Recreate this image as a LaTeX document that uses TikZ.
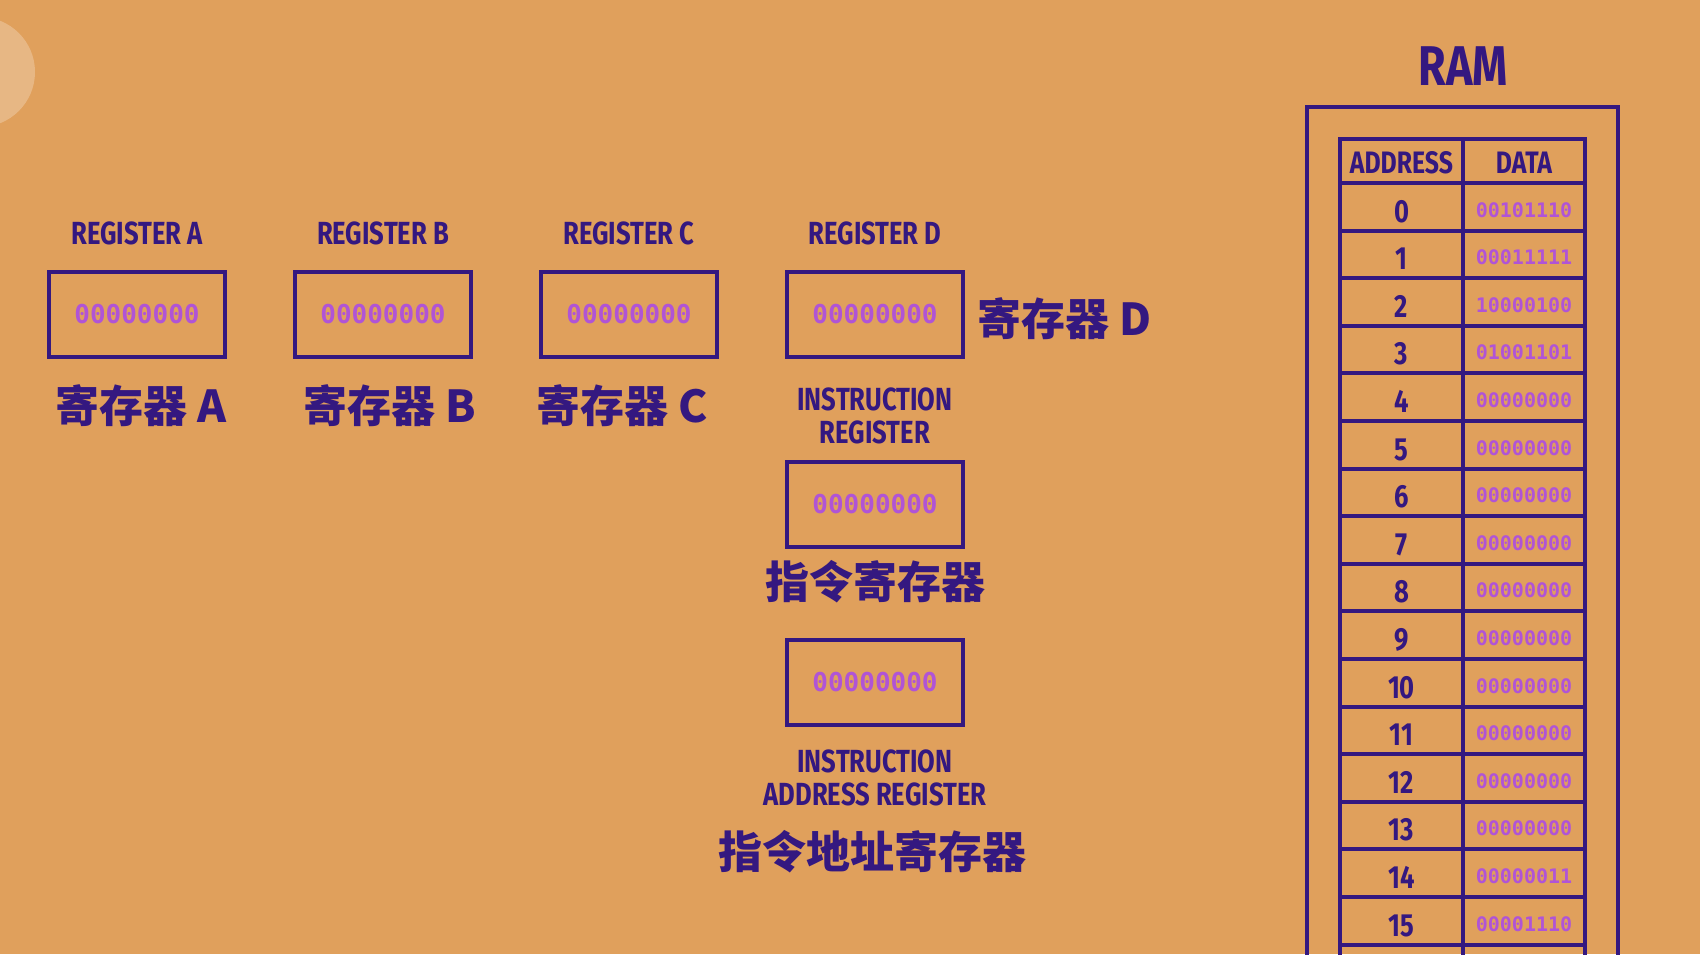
\documentclass[tikz,border=0pt]{standalone}
\usepackage{fontspec}
\usetikzlibrary{positioning}
\newfontfamily\headfont{Fira Sans}[FakeStretch=0.8]
\newfontfamily\cjk{Noto Sans CJK SC}
\newfontfamily\bitfont{DejaVu Sans Mono}
\definecolor{bgorange}{RGB}{224,160,92}
\definecolor{ink}{RGB}{52,24,128}
\definecolor{bitviolet}{RGB}{176,84,214}

\begin{document}
\begin{tikzpicture}[x=1pt, y=-1pt,
  regbox/.style={draw=ink, line width=4pt, minimum width=176pt, minimum height=85pt, inner sep=0pt,
    text=bitviolet, font=\bitfont\bfseries\fontsize{26}{26}\selectfont},
  title/.style={inner sep=0pt, anchor=base, text=ink, align=center,
    font=\headfont\bfseries\fontsize{32}{33}\selectfont},
  hanzi/.style={inner sep=0pt, anchor=base, text=ink, font=\cjk\bfseries\fontsize{44}{44}\selectfont},
  cell/.style={draw=ink, line width=4pt, inner sep=0pt, text depth=0pt},
  head/.style={cell, minimum height=44pt, text height=24pt, text=ink,
    font=\headfont\bfseries\fontsize{31}{31}\selectfont},
  addr/.style={cell, minimum width=123pt, minimum height=47.6pt, text height=30.4pt, text=ink,
    font=\headfont\bfseries\fontsize{32}{32}\selectfont},
  data/.style={cell, minimum width=122pt, minimum height=47.6pt, text height=20.4pt, text=bitviolet,
    font=\bitfont\bfseries\fontsize{20}{20}\selectfont}
]
\useasboundingbox (0,0) rectangle (1700,954);
\clip (0,0) rectangle (1700,954);
\fill[bgorange] (0,0) rectangle (1700,954);
\fill[white, opacity=0.25] (-20,72) circle (55);

% registers
\node[regbox] (rega) at (137,314.5) {00000000};
\node[regbox, right=66pt of rega] (regb) {00000000};
\node[regbox, right=66pt of regb] (regc) {00000000};
\node[regbox, right=66pt of regc] (regd) {00000000};
\foreach \r/\n in {rega/A,regb/B,regc/C,regd/D}
  \node[title] (\r-en) at ([yshift=70.5pt]\r.center) {REGISTER \n};
\foreach \r/\n/\dx in {rega/A/4,regb/B/7,regc/C/-7}
  \node[hanzi] (\r-zh) at ([xshift=\dx pt, yshift=-107.5pt]\r.center) {寄存器 \n};
\node[hanzi, anchor=base west] (regd-zh) at (977,335) {寄存器 D};

\node[regbox] (ir) at (875,504.5) {00000000};
\node[title] (ir-en) at (875,443) {INSTRUCTION\\REGISTER};
\node[hanzi] (ir-zh) at (875,598) {指令寄存器};

\node[regbox] (iar) at (875,682.5) {00000000};
\node[title] (iar-en) at (875,805) {INSTRUCTION\\ADDRESS REGISTER};
\node[hanzi] (iar-zh) at (872,868) {指令地址寄存器};

% RAM
\node[title, font=\headfont\bfseries\fontsize{56}{56}\selectfont] (ram) at (1463,85) {RAM};
\draw[ink, line width=4.5pt] (1307,107) rectangle (1618,1010);
\node[head, minimum width=123pt] (head-addr) at (1401.5,161) {ADDRESS};
\node[head, minimum width=122pt] (head-data) at (1524,161) {DATA};
\foreach \v [count=\i from 0] in {00101110,00011111,10000100,01001101,00000000,00000000,
    00000000,00000000,00000000,00000000,00000000,00000000,00000000,00000000,00000011,00001110,{}} {
  \node[addr] (addr-\i) at (1401.5,206.8+47.6*\i) {\ifnum\i<16 \i\fi};
  \node[data] (data-\i) at (1524,206.8+47.6*\i) {\v};
}
\end{tikzpicture}
\end{document}
